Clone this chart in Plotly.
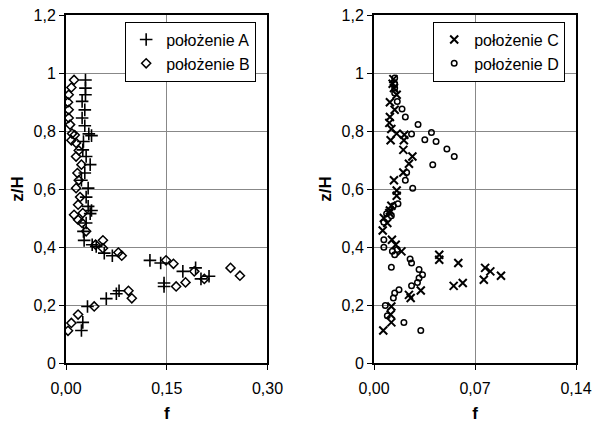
import plotly.graph_objects as go

# Data (f, z/H)
A_f = [0.029,0.029,0.029,0.024,0.028,0.024,0.028,0.034,0.038,0.026,0.025,0.030,0.036,0.028,0.023,0.033,
       0.030,0.033,0.038,0.036,0.030,0.026,0.027,0.039,0.045,0.057,0.069,0.125,0.141,0.146,0.146,0.079,
       0.075,0.060,0.032,0.025,0.023,0.174,0.193,0.201,0.213]
A_z = [0.976,0.948,0.925,0.902,0.873,0.845,0.818,0.790,0.784,0.764,0.735,0.712,0.684,0.655,0.630,0.603,
       0.572,0.540,0.526,0.515,0.483,0.454,0.423,0.408,0.402,0.379,0.370,0.354,0.345,0.276,0.264,0.249,
       0.239,0.222,0.195,0.140,0.112,0.316,0.328,0.290,0.299]

B_f = [0.012,0.008,0.004,0.003,0.004,0.004,0.006,0.009,0.013,0.008,0.015,0.019,0.015,0.023,0.017,0.019,0.015,
       0.021,0.018,0.012,0.025,0.018,0.024,0.030,0.044,0.055,0.055,0.078,0.083,0.149,0.160,0.164,0.093,
       0.098,0.042,0.018,0.008,0.003,0.178,0.191,0.206,0.245,0.259]
B_z = [0.976,0.950,0.925,0.899,0.873,0.845,0.822,0.791,0.786,0.768,0.759,0.733,0.712,0.684,0.655,0.630,0.603,
       0.572,0.546,0.511,0.517,0.494,0.483,0.454,0.408,0.423,0.396,0.381,0.370,0.354,0.342,0.264,0.249,
       0.223,0.195,0.167,0.138,0.111,0.278,0.316,0.290,0.328,0.301]

C_f = [0.0134,0.0129,0.0138,0.0157,0.0110,0.0143,0.0110,0.0106,0.0120,0.0157,0.0115,0.0210,0.0207,0.0203,
       0.0266,0.0242,0.0203,0.0138,0.0157,0.0157,0.0120,0.0110,0.0106,0.0068,0.0092,0.0060,0.0124,0.0150,
       0.0190,0.0452,0.0452,0.0584,0.0552,0.0615,0.0324,0.0242,0.0254,0.0120,0.0115,0.0120,0.0064,
       0.0770,0.0806,0.0761,0.0880]
C_z = [0.979,0.963,0.948,0.925,0.899,0.873,0.848,0.828,0.807,0.791,0.768,0.787,0.768,0.735,
       0.712,0.687,0.657,0.630,0.595,0.577,0.542,0.526,0.517,0.500,0.483,0.457,0.425,0.408,
       0.385,0.373,0.356,0.345,0.266,0.276,0.250,0.235,0.224,0.195,0.167,0.140,0.112,
       0.328,0.316,0.287,0.301]

D_f = [0.0143,0.0143,0.0143,0.0143,0.0161,0.0194,0.0217,0.0305,0.0398,0.0260,0.0352,0.0430,0.0505,0.0556,
       0.0407,0.0226,0.0217,0.0268,0.0166,0.0134,0.0087,0.0120,0.0068,0.0068,0.0068,0.0127,0.0143,0.0161,
       0.0250,0.0260,0.0120,0.0312,0.0336,0.0312,0.0301,0.0260,0.0173,0.0143,0.0134,0.0078,0.0092,0.0207,0.0324]
D_z = [0.983,0.963,0.948,0.931,0.902,0.876,0.848,0.822,0.795,0.790,0.770,0.764,0.738,0.712,
       0.684,0.657,0.630,0.603,0.549,0.542,0.515,0.508,0.485,0.425,0.399,0.385,0.373,0.391,
       0.359,0.345,0.330,0.322,0.304,0.293,0.278,0.266,0.253,0.241,0.224,0.198,0.163,0.140,0.112]

y_ticks = [0, 0.2, 0.4, 0.6, 0.8, 1.0, 1.2]
y_ticktext = ["0", "0,2", "0,4", "0,6", "0,8", "1", "1,2"]
x1_ticks = [0, 0.15, 0.30]
x1_ticktext = ["0,00", "0,15", "0,30"]
x2_ticks = [0, 0.07, 0.14]
x2_ticktext = ["0,00", "0,07", "0,14"]

FONT = "Liberation Sans, Arial, sans-serif"
fig = go.Figure()
fig.add_trace(go.Scatter(x=A_f, y=A_z, mode="markers", name="położenie A",
                         marker=dict(symbol="cross-thin-open", size=9, color="black",
                                     line=dict(color="black", width=1.6)),
                         xaxis="x", yaxis="y", legend="legend"))
fig.add_trace(go.Scatter(x=B_f, y=B_z, mode="markers", name="położenie B",
                         marker=dict(symbol="diamond-open", size=7, color="black",
                                     line=dict(color="black", width=1.5)),
                         xaxis="x", yaxis="y", legend="legend"))
fig.add_trace(go.Scatter(x=C_f, y=C_z, mode="markers", name="położenie C",
                         marker=dict(symbol="x-thin-open", size=8, color="black",
                                     line=dict(color="black", width=2)),
                         xaxis="x2", yaxis="y2", legend="legend2"))
fig.add_trace(go.Scatter(x=D_f, y=D_z, mode="markers", name="położenie D",
                         marker=dict(symbol="circle-open", size=5.5, color="black",
                                     line=dict(color="black", width=1.5)),
                         xaxis="x2", yaxis="y2", legend="legend2"))

axis_common = dict(showline=True, linecolor="black", linewidth=2, mirror=True,
                   showgrid=True, gridcolor="#888888", gridwidth=1,
                   ticks="outside", ticklen=5, tickcolor="black", tickwidth=1,
                   zeroline=False, automargin=False,
                   tickfont=dict(family=FONT, size=16, color="black"))

xd1 = [0, 0.395]
xd2 = [0.604, 1.0]
fig.update_layout(
    width=594, height=423,
    margin=dict(l=66, r=18, t=15, b=60),
    paper_bgcolor="white", plot_bgcolor="white",
    font=dict(family=FONT, size=16, color="black"),
    xaxis=dict(domain=xd1, range=[0, 0.30], tickvals=x1_ticks, ticktext=x1_ticktext,
               anchor="y", ticklabelstandoff=5,
               title=dict(text="<b>f</b>", standoff=14, font=dict(size=17)), **axis_common),
    yaxis=dict(domain=[0, 1], range=[0, 1.2], tickvals=y_ticks, ticktext=y_ticktext,
               anchor="x",
               title=dict(text="<b>z/H</b>", standoff=6, font=dict(size=17)), **axis_common),
    xaxis2=dict(domain=xd2, range=[0, 0.14], tickvals=x2_ticks, ticktext=x2_ticktext,
                anchor="y2", ticklabelstandoff=5,
                title=dict(text="<b>f</b>", standoff=14, font=dict(size=17)), **axis_common),
    yaxis2=dict(domain=[0, 1], range=[0, 1.2], tickvals=y_ticks, ticktext=y_ticktext,
                anchor="x2",
                title=dict(text="<b>z/H</b>", standoff=6, font=dict(size=17)), **axis_common),
    legend=dict(x=0.116, y=0.981, xanchor="left", yanchor="top",
                bordercolor="black", borderwidth=1, bgcolor="white",
                font=dict(family=FONT, size=16), itemwidth=30,
                tracegroupgap=0),
    legend2=dict(x=0.72, y=0.981, xanchor="left", yanchor="top",
                 bordercolor="black", borderwidth=1, bgcolor="white",
                 font=dict(family=FONT, size=16), itemwidth=30,
                 tracegroupgap=0),
)
fig.write_html("out.html")
